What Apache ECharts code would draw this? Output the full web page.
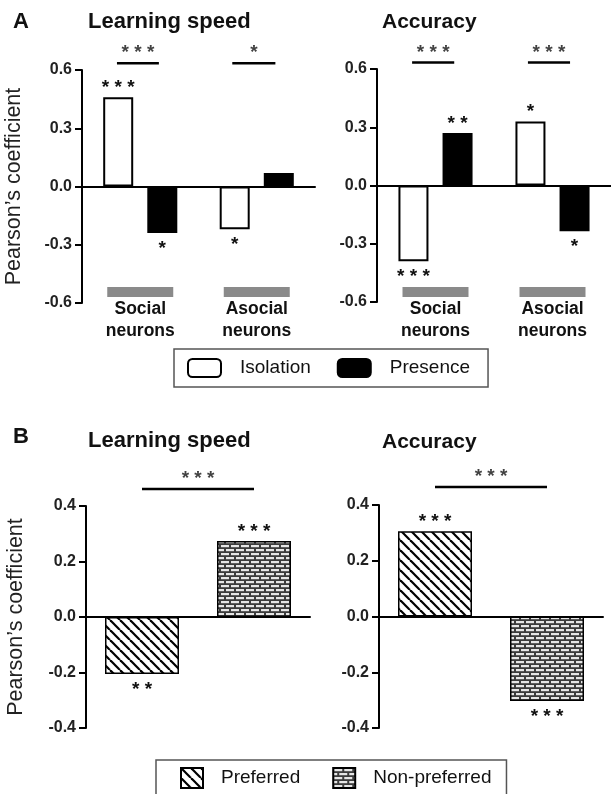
<!DOCTYPE html>
<html><head><meta charset="utf-8">
<script src="https://cdn.jsdelivr.net/npm/echarts@6/dist/echarts.min.js"></script>
<style>html,body{margin:0;padding:0;background:#fff}#c{width:611px;height:794px}</style>
</head><body><div id="c"></div>
<script>
// ---------------- data ----------------
const groupsA = ['Social neurons', 'Asocial neurons'];
const speedIsolation = [0.46, -0.22];
const speedPresence = [-0.24, 0.07];
const accIsolation = [-0.39, 0.33];
const accPresence = [0.27, -0.235];
const speedIsoStars = ['***', '*'];
const speedPreStars = ['*', ''];
const accIsoStars = ['***', '*'];
const accPreStars = ['**', '*'];
const sigSpeedA = ['***', '*'];
const sigAccA = ['***', '***'];

const groupsB = ['Preferred', 'Non-preferred'];
const speedB = [-0.205, 0.274];
const accB = [0.306, -0.303];
const speedBStars = ['**', '***'];
const accBStars = ['***', '***'];
const sigSpeedB = ['***'];
const sigAccB = ['***'];

const ticksA = ['-0.6', '-0.3', '0.0', '0.3', '0.6'];
const ticksB = ['-0.4', '-0.2', '0.0', '0.2', '0.4'];

// ---------------- styles ----------------
const FONT = '"Liberation Sans", Arial, Helvetica, sans-serif';
const INK = '#111';

function diagPattern() {
  const c = document.createElement('canvas'); c.width = 10; c.height = 10;
  const x = c.getContext('2d');
  x.fillStyle = '#fff'; x.fillRect(0, 0, 10, 10);
  x.strokeStyle = '#000'; x.lineWidth = 2.2;
  for (const k of [-10, 0, 10]) { x.beginPath(); x.moveTo(k, 0); x.lineTo(k + 10, 10); x.stroke(); }
  return c;
}
function brickPattern() {
  const c = document.createElement('canvas'); c.width = 10; c.height = 8;
  const x = c.getContext('2d');
  x.fillStyle = '#3c3c3c'; x.fillRect(0, 0, 10, 8);
  x.fillStyle = '#e6e6e6';
  x.fillRect(1, 1, 8, 2.2);
  x.fillRect(6, 5, 4, 2.2); x.fillRect(0, 5, 4, 2.2);
  return c;
}
const DIAG = { image: diagPattern(), repeat: 'repeat' };
const BRICK = { image: brickPattern(), repeat: 'repeat' };

function starLabel(v, s) {
  return {
    value: v,
    label: { show: !!s, formatter: s.split('').join(' '), position: v >= 0 ? 'top' : 'bottom', distance: v >= 0 ? 0 : 6 }
  };
}
const starText = { fontSize: 19, fontWeight: 'bold', fontFamily: FONT, color: INK };

const panels = [
  { grid: { left: 82, top: 70, width: 233, height: 233 }, cats: groupsA, ticks: ticksA, yname: true, catLabels: true, labelMargin: -16, nameGap: 57,
    kind: 'A', s1: speedIsolation, s2: speedPresence, st1: speedIsoStars, st2: speedPreStars,
    sig: [{ x: [-0.2, 0.16], t: sigSpeedA[0] }, { x: [0.79, 1.16], t: sigSpeedA[1] }], sigY: 0.635 },
  { grid: { left: 377, top: 69, width: 234, height: 233 }, cats: groupsA, ticks: ticksA, yname: false, catLabels: true, labelMargin: -15,
    kind: 'A', s1: accIsolation, s2: accPresence, st1: accIsoStars, st2: accPreStars,
    sig: [{ x: [-0.2, 0.16], t: sigAccA[0] }, { x: [0.79, 1.15], t: sigAccA[1] }], sigY: 0.633 },
  { grid: { left: 86, top: 506, width: 224, height: 222 }, cats: groupsB, ticks: ticksB, yname: true, catLabels: false, nameGap: 59,
    kind: 'B', vals: speedB, stars: speedBStars,
    sig: [{ x: [0, 1], t: sigSpeedB[0] }], sigY: 0.461 },
  { grid: { left: 379, top: 505, width: 224, height: 223 }, cats: groupsB, ticks: ticksB, yname: false, catLabels: false,
    kind: 'B', vals: accB, stars: accBStars,
    sig: [{ x: [0, 1], t: sigAccB[0] }], sigY: 0.465 }
];

const grids = [], xAxes = [], yAxes = [], series = [];
panels.forEach((p, g) => {
  grids.push(Object.assign({ containLabel: false }, p.grid));
  const tv = p.ticks.map(Number);
  xAxes.push({ type: 'category', gridIndex: g, data: p.cats,
    axisLine: { onZero: true, lineStyle: { color: '#000', width: 2 } },
    axisTick: { show: false }, axisLabel: { show: false }, splitLine: { show: false } });
  xAxes.push({ type: 'category', gridIndex: g, data: p.cats, position: 'bottom',
    axisLine: { show: false, onZero: false }, axisTick: { show: false }, splitLine: { show: false },
    axisLabel: { show: p.catLabels, interval: 0, margin: p.labelMargin || 0,
      formatter: v => { const w = v.split(' '); return '{bar|}\n{t1|' + w[0] + '}\n{t2|' + w[1] + '}'; },
      rich: {
        bar: { width: 66, height: 10, lineHeight: 10, backgroundColor: '#8a8a8a' },
        t1: { fontSize: 17.5, fontWeight: 'bold', fontFamily: FONT, color: INK, lineHeight: 25 },
        t2: { fontSize: 17.5, fontWeight: 'bold', fontFamily: FONT, color: INK, lineHeight: 18 }
      } } });
  xAxes.push({ type: 'value', gridIndex: g, min: -0.5, max: 1.5, show: false });
  yAxes.push({ type: 'value', gridIndex: g, min: tv[0], max: tv[tv.length - 1], interval: tv[1] - tv[0],
    axisLine: { show: true, onZero: false, lineStyle: { color: '#000', width: 2 } },
    axisTick: { show: true, length: 7, lineStyle: { color: '#000', width: 2 } },
    axisLabel: { margin: 10, fontSize: 16, fontWeight: 'bold', color: '#222', fontFamily: FONT,
      formatter: v => v.toFixed(1) },
    splitLine: { show: false },
    name: p.yname ? 'Pearson\u2019s coefficient' : '', nameLocation: 'middle', nameGap: p.nameGap || 57,
    nameTextStyle: { fontSize: 21.5, fontFamily: FONT, color: '#222' } });

  const xi = 3 * g;
  if (p.kind === 'A') {
    series.push({ type: 'bar', name: 'Isolation', xAxisIndex: xi, yAxisIndex: g, barWidth: 30, barGap: '47%',
      data: p.s1.map((v, i) => starLabel(v, p.st1[i])),
      itemStyle: { color: '#fff', borderColor: '#000', borderWidth: 2 }, label: starText });
    series.push({ type: 'bar', name: 'Presence', xAxisIndex: xi, yAxisIndex: g, barWidth: 30, barGap: '47%',
      data: p.s2.map((v, i) => starLabel(v, p.st2[i])),
      itemStyle: { color: '#000', borderColor: '#000', borderWidth: 2 }, label: starText });
  } else {
    series.push({ type: 'bar', name: 'Preferred', xAxisIndex: xi, yAxisIndex: g, barWidth: 74, barGap: '-100%',
      data: [starLabel(p.vals[0], p.stars[0]), '-'],
      itemStyle: { color: DIAG, borderColor: '#000', borderWidth: 1.5 }, label: starText });
    series.push({ type: 'bar', name: 'Non-preferred', xAxisIndex: xi, yAxisIndex: g, barWidth: 74, barGap: '-100%',
      data: ['-', starLabel(p.vals[1], p.stars[1])],
      itemStyle: { color: BRICK, borderColor: '#000', borderWidth: 1.5 }, label: starText });
  }
  p.sig.forEach(s => {
    series.push({ type: 'line', xAxisIndex: xi + 2, yAxisIndex: g, clip: false, symbol: 'none', silent: true,
      data: [[s.x[0], p.sigY], [s.x[1], p.sigY]], lineStyle: { color: '#000', width: 2.5 } });
    series.push({ type: 'scatter', xAxisIndex: xi + 2, yAxisIndex: g, clip: false, symbolSize: 1, silent: true,
      itemStyle: { color: 'rgba(0,0,0,0)' },
      data: [[(s.x[0] + s.x[1]) / 2, p.sigY]],
      label: Object.assign({ show: true, position: 'top', distance: 0, formatter: s.t.split('').join(' ') }, starText) });
  });
});

function txt(t, x, y, size) {
  return { type: 'text', x: x, y: y, silent: true,
    style: { text: t, font: 'bold ' + size + 'px ' + FONT, fill: INK, textAlign: 'left', textVerticalAlign: 'middle', align: 'left', verticalAlign: 'middle' } };
}

const option = {
  animation: false,
  backgroundColor: '#fff',
  grid: grids, xAxis: xAxes, yAxis: yAxes, series: series,
  legend: [
    { data: ['Isolation', 'Presence'], left: 174, top: 349, itemWidth: 33, itemHeight: 18, itemGap: 26,
      padding: [9, 18, 9, 13], borderColor: '#555', borderWidth: 1.5, icon: 'roundRect', selectedMode: false,
      formatter: n => '{g|}' + n,
      textStyle: { fontSize: 19, fontFamily: FONT, color: INK, rich: { g: { width: 14 } } } },
    { data: ['Preferred', 'Non-preferred'], left: 156, top: 760, itemWidth: 22, itemHeight: 20, itemGap: 32,
      padding: [7, 15, 7, 24], borderColor: '#555', borderWidth: 1.5, icon: 'rect', selectedMode: false,
      formatter: n => '{g|}' + n,
      textStyle: { fontSize: 19, fontFamily: FONT, color: INK, rich: { g: { width: 13 } } } }
  ],
  graphic: [
    txt('A', 13, 22, 22), txt('Learning speed', 88, 22, 22), txt('Accuracy', 382, 22, 21),
    txt('B', 13, 437, 22), txt('Learning speed', 88, 441, 22), txt('Accuracy', 382, 442, 21)
  ]
};
const chart = echarts.init(document.getElementById('c'), null, { renderer: 'canvas' });
chart.setOption(option);
</script></body></html>
